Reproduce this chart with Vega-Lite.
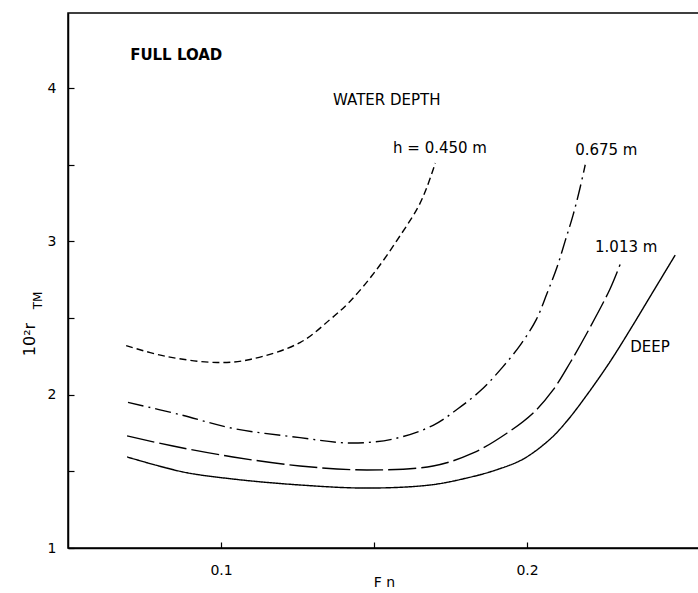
{
  "$schema": "https://vega.github.io/schema/vega-lite/v6.json",
  "width": 632,
  "height": 535,
  "autosize": {"type": "none"},
  "padding": {"left": 68, "top": 13, "right": 0, "bottom": 45},
  "background": "white",
  "config": {
    "view": {"stroke": "black", "strokeWidth": 1.5},
    "font": "DejaVu Sans",
    "axis": {
      "domainColor": "black",
      "domainWidth": 1.5,
      "tickColor": "black",
      "tickWidth": 1.2,
      "labelColor": "black",
      "titleColor": "black",
      "labelFont": "DejaVu Sans",
      "titleFont": "DejaVu Sans",
      "labelFontSize": 14,
      "grid": false
    }
  },
  "datasets": {
    "curves": [
      {"h": "0.450 m", "fn": 0.069, "r": 2.32},
      {"h": "0.450 m", "fn": 0.082, "r": 2.25},
      {"h": "0.450 m", "fn": 0.0987, "r": 2.21},
      {"h": "0.450 m", "fn": 0.1095, "r": 2.23},
      {"h": "0.450 m", "fn": 0.1258, "r": 2.34},
      {"h": "0.450 m", "fn": 0.1356, "r": 2.49},
      {"h": "0.450 m", "fn": 0.1422, "r": 2.61},
      {"h": "0.450 m", "fn": 0.1506, "r": 2.81},
      {"h": "0.450 m", "fn": 0.1591, "r": 3.055},
      {"h": "0.450 m", "fn": 0.1644, "r": 3.224},
      {"h": "0.450 m", "fn": 0.1673, "r": 3.355},
      {"h": "0.450 m", "fn": 0.170, "r": 3.511},

      {"h": "0.675 m", "fn": 0.0696, "r": 1.95},
      {"h": "0.675 m", "fn": 0.0866, "r": 1.87},
      {"h": "0.675 m", "fn": 0.104, "r": 1.78},
      {"h": "0.675 m", "fn": 0.1258, "r": 1.72},
      {"h": "0.675 m", "fn": 0.142, "r": 1.685},
      {"h": "0.675 m", "fn": 0.156, "r": 1.71},
      {"h": "0.675 m", "fn": 0.1693, "r": 1.80},
      {"h": "0.675 m", "fn": 0.1775, "r": 1.91},
      {"h": "0.675 m", "fn": 0.185, "r": 2.03},
      {"h": "0.675 m", "fn": 0.192, "r": 2.18},
      {"h": "0.675 m", "fn": 0.198, "r": 2.33},
      {"h": "0.675 m", "fn": 0.203, "r": 2.49},
      {"h": "0.675 m", "fn": 0.2065, "r": 2.66},
      {"h": "0.675 m", "fn": 0.2098, "r": 2.833},
      {"h": "0.675 m", "fn": 0.2124, "r": 3.0},
      {"h": "0.675 m", "fn": 0.215, "r": 3.17},
      {"h": "0.675 m", "fn": 0.2172, "r": 3.34},
      {"h": "0.675 m", "fn": 0.219, "r": 3.50},

      {"h": "1.013 m", "fn": 0.0693, "r": 1.731},
      {"h": "1.013 m", "fn": 0.0843, "r": 1.665},
      {"h": "1.013 m", "fn": 0.1039, "r": 1.594},
      {"h": "1.013 m", "fn": 0.1258, "r": 1.535},
      {"h": "1.013 m", "fn": 0.1477, "r": 1.509},
      {"h": "1.013 m", "fn": 0.1693, "r": 1.535},
      {"h": "1.013 m", "fn": 0.1824, "r": 1.62},
      {"h": "1.013 m", "fn": 0.1935, "r": 1.75},
      {"h": "1.013 m", "fn": 0.202, "r": 1.881},
      {"h": "1.013 m", "fn": 0.2085, "r": 2.031},
      {"h": "1.013 m", "fn": 0.2141, "r": 2.21},
      {"h": "1.013 m", "fn": 0.2206, "r": 2.44},
      {"h": "1.013 m", "fn": 0.2271, "r": 2.69},
      {"h": "1.013 m", "fn": 0.2304, "r": 2.85},

      {"h": "DEEP", "fn": 0.0693, "r": 1.594},
      {"h": "DEEP", "fn": 0.0876, "r": 1.496},
      {"h": "DEEP", "fn": 0.1039, "r": 1.45},
      {"h": "DEEP", "fn": 0.1258, "r": 1.411},
      {"h": "DEEP", "fn": 0.1477, "r": 1.391},
      {"h": "DEEP", "fn": 0.1683, "r": 1.411},
      {"h": "DEEP", "fn": 0.1804, "r": 1.457},
      {"h": "DEEP", "fn": 0.19, "r": 1.51},
      {"h": "DEEP", "fn": 0.1987, "r": 1.58},
      {"h": "DEEP", "fn": 0.2075, "r": 1.71},
      {"h": "DEEP", "fn": 0.2131, "r": 1.83},
      {"h": "DEEP", "fn": 0.2196, "r": 2.0},
      {"h": "DEEP", "fn": 0.2271, "r": 2.215},
      {"h": "DEEP", "fn": 0.2337, "r": 2.425},
      {"h": "DEEP", "fn": 0.2402, "r": 2.64},
      {"h": "DEEP", "fn": 0.2484, "r": 2.911}
    ],
    "heading": [
      {"text": "FULL  LOAD", "fn": 0.0703, "r": 4.216}
    ],
    "notes": [
      {"text": "WATER  DEPTH", "fn": 0.1366, "r": 3.922},
      {"text": "h = 0.450 m", "fn": 0.1562, "r": 3.609},
      {"text": "0.675 m", "fn": 0.2157, "r": 3.596},
      {"text": "1.013 m", "fn": 0.2222, "r": 2.963},
      {"text": "DEEP", "fn": 0.2337, "r": 2.311}
    ],
    "ytitle": [
      {"text": "10²r", "fn": 0.0392, "r": 2.36}
    ],
    "ysub": [
      {"text": "TM", "fn": 0.0414, "r": 2.615}
    ]
  },
  "layer": [
    {
      "data": {"name": "curves"},
      "mark": {"type": "line", "interpolate": "catmull-rom", "color": "black", "strokeWidth": 1.4},
      "encoding": {
        "x": {
          "field": "fn", "type": "quantitative",
          "scale": {"domain": [0.05, 0.2565], "nice": false, "zero": false},
          "axis": {
            "values": [0.1, 0.15, 0.2],
            "labelExpr": "datum.value == 0.15 ? '' : format(datum.value, '.1f')",
            "tickSize": -6,
            "labelPadding": 21,
            "title": "F n",
            "titleFontSize": 14,
            "titleFontWeight": "normal",
            "titlePadding": -2
          }
        },
        "y": {
          "field": "r", "type": "quantitative",
          "scale": {"domain": [1, 4.49], "nice": false, "zero": false},
          "axis": {
            "values": [1, 1.5, 2, 2.5, 3, 3.5, 4],
            "labelExpr": "datum.value % 1 == 0 ? format(datum.value, 'd') : ''",
            "tickSize": -6,
            "labelPadding": 18,
            "title": null
          }
        },
        "detail": {"field": "h"},
        "strokeDash": {
          "field": "h", "type": "nominal",
          "scale": {
            "domain": ["0.450 m", "0.675 m", "1.013 m", "DEEP"],
            "range": [[7, 4], [16, 5, 2, 5], [28, 5], [1, 0]]
          },
          "legend": null
        }
      }
    },
    {
      "data": {"name": "heading"},
      "mark": {"type": "text", "align": "left", "baseline": "middle", "fontSize": 15, "fontWeight": "bold", "color": "black"},
      "encoding": {
        "x": {"field": "fn", "type": "quantitative"},
        "y": {"field": "r", "type": "quantitative"},
        "text": {"field": "text"}
      }
    },
    {
      "data": {"name": "notes"},
      "mark": {"type": "text", "align": "left", "baseline": "middle", "fontSize": 15, "color": "black"},
      "encoding": {
        "x": {"field": "fn", "type": "quantitative"},
        "y": {"field": "r", "type": "quantitative"},
        "text": {"field": "text"}
      }
    },
    {
      "data": {"name": "ytitle"},
      "mark": {"type": "text", "align": "center", "baseline": "alphabetic", "angle": 270, "fontSize": 16, "color": "black", "clip": false},
      "encoding": {
        "x": {"field": "fn", "type": "quantitative"},
        "y": {"field": "r", "type": "quantitative"},
        "text": {"field": "text"}
      }
    },
    {
      "data": {"name": "ysub"},
      "mark": {"type": "text", "align": "center", "baseline": "alphabetic", "angle": 270, "fontSize": 12, "color": "black", "clip": false},
      "encoding": {
        "x": {"field": "fn", "type": "quantitative"},
        "y": {"field": "r", "type": "quantitative"},
        "text": {"field": "text"}
      }
    }
  ]
}
